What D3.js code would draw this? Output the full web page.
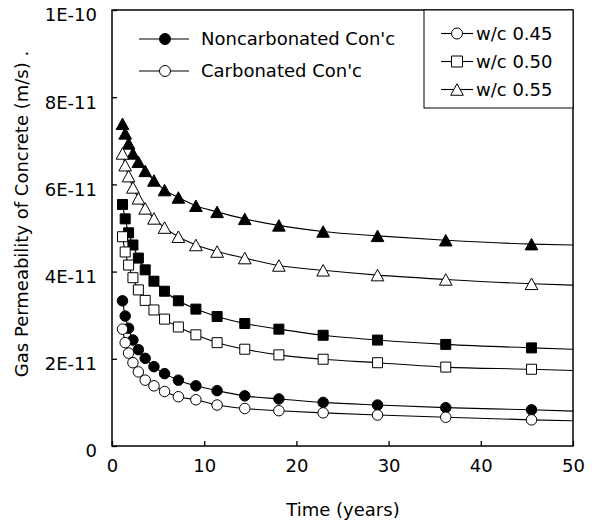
<!DOCTYPE html>
<html>
<head>
<meta charset="utf-8">
<script src="https://cdn.jsdelivr.net/npm/d3@7"></script>
<style>
  html, body { margin: 0; padding: 0; background: #fff; }
  svg { display: block; font-family: "DejaVu Sans", Verdana, sans-serif; }
</style>
</head>
<body>
<svg id="chart" width="592" height="520"></svg>
<script>
// ---- data (values in m/s) ----
const times = [1.14, 1.43, 1.8, 2.27, 2.86, 3.6, 4.55, 5.7, 7.2, 9.1, 11.4, 14.4, 18.1, 22.9, 28.8, 36.2, 45.5];
const lineEndTime = 50;

const non045 = [3.33, 2.98, 2.70, 2.43, 2.21, 2.01, 1.82, 1.66, 1.51, 1.38, 1.27, 1.15, 1.08, 1.00, 0.94, 0.88, 0.83];
const carb045 = [2.68, 2.37, 2.13, 1.91, 1.70, 1.51, 1.38, 1.25, 1.13, 1.06, 0.94, 0.86, 0.81, 0.76, 0.71, 0.66, 0.60];
const non050 = [5.54, 5.21, 4.89, 4.61, 4.31, 4.04, 3.78, 3.55, 3.33, 3.14, 2.97, 2.81, 2.68, 2.54, 2.43, 2.33, 2.25];
const carb050 = [4.80, 4.45, 4.15, 3.86, 3.58, 3.34, 3.12, 2.91, 2.73, 2.55, 2.37, 2.22, 2.09, 1.99, 1.91, 1.81, 1.76];
const non055 = [7.39, 7.17, 6.94, 6.71, 6.52, 6.31, 6.09, 5.87, 5.70, 5.51, 5.37, 5.21, 5.06, 4.92, 4.82, 4.72, 4.63];
const carb055 = [6.71, 6.44, 6.19, 5.93, 5.68, 5.45, 5.22, 5.01, 4.80, 4.61, 4.46, 4.31, 4.14, 4.03, 3.92, 3.82, 3.72];
// curve value where the fitted line meets t = 50 (same order as seriesNames)
const lineEndValues = [0.80, 0.58, 2.22, 1.73, 4.61, 3.69];
const valueUnit = 1e-11;

const seriesNames = ["non045", "carb045", "non050", "carb050", "non055", "carb055"];
const seriesValues = [non045, carb045, non050, carb050, non055, carb055];
const seriesShape = ["circle", "circle", "square", "square", "triangle", "triangle"];
const seriesFilled = [true, false, true, false, true, false];

const xTicks = [0, 10, 20, 30, 40, 50];
const yTicks = [0, 2e-11, 4e-11, 6e-11, 8e-11, 1e-10];
const yTickLabels = ["0", "2E-11", "4E-11", "6E-11", "8E-11", "1E-10"];

const legendStateLabels = ["Noncarbonated Con'c", "Carbonated Con'c"];
const legendWcLabels = ["w/c 0.45", "w/c 0.50", "w/c 0.55"];
const xTitle = "Time (years)";
const yTitle = "Gas Permeability of Concrete (m/s) .";

// ---- layout ----
const svg = d3.select("#chart");
const L = 112, R = 573, T = 10, B = 446;
const x = d3.scaleLinear().domain([0, 50]).range([L, R]);
const y = d3.scaleLinear().domain([0, 1e-10]).range([B, T]);
const FS = 18;
const markerSize = { circle: 10.5, square: 10, triangle: 11.5 };

function markerPath(shape, size) {
  if (shape === "circle") {
    const r = size / 2;
    return `M${-r},0A${r},${r} 0 1,0 ${r},0A${r},${r} 0 1,0 ${-r},0Z`;
  }
  if (shape === "square") {
    const h = size / 2;
    return `M${-h},${-h}H${h}V${h}H${-h}Z`;
  }
  // triangle, bbox centred on point
  const w = size * 1.1 / 2, h = size / 2;
  return `M0,${-h}L${w},${h}L${-w},${h}Z`;
}

// ---- axes ----
const xAxis = d3.axisBottom(x).tickValues(xTicks).tickSize(-5).tickPadding(13.5).tickFormat(d3.format("d"));
const gx = svg.append("g").attr("transform", `translate(0,${B})`).call(xAxis);
const yAxis = d3.axisLeft(y).tickValues(yTicks).tickSize(-5).tickPadding(15)
  .tickFormat((d, i) => yTickLabels[i]);
const gy = svg.append("g").attr("transform", `translate(${L},0)`).call(yAxis);
[gx, gy].forEach(g => {
  g.select(".domain").remove();
  g.selectAll(".tick line").attr("stroke", "#000").attr("stroke-width", 1.3);
  g.selectAll(".tick text").attr("font-size", FS).attr("fill", "#000")
    .attr("font-family", "DejaVu Sans, Verdana, sans-serif");
});
gy.selectAll(".tick text").attr("dy", "0.6em");

// frame
svg.append("rect").attr("x", L).attr("y", T).attr("width", R - L).attr("height", B - T)
  .attr("fill", "none").attr("stroke", "#000").attr("stroke-width", 1.5);

// ---- lines ----
const line = d3.line().x(d => x(d[0])).y(d => y(d[1])).curve(d3.curveMonotoneX);
seriesValues.forEach((vals, i) => {
  const pts = times.map((t, j) => [t, vals[j] * valueUnit]);
  pts.push([lineEndTime, lineEndValues[i] * valueUnit]);
  svg.append("path").attr("d", line(pts)).attr("fill", "none")
    .attr("stroke", "#000").attr("stroke-width", 1.1);
});

// ---- markers ----
seriesValues.forEach((vals, i) => {
  const size = markerSize[seriesShape[i]];
  svg.append("g").selectAll("path").data(vals).join("path")
    .attr("transform", (d, j) => `translate(${x(times[j])},${y(d * valueUnit)})`)
    .attr("d", markerPath(seriesShape[i], size))
    .attr("fill", seriesFilled[i] ? "#000" : "#fff")
    .attr("stroke", "#000").attr("stroke-width", 1);
});

// ---- legend: state ----
const lg1 = svg.append("g");
legendStateLabels.forEach((lab, i) => {
  const cy = 39 + i * 32;
  lg1.append("line").attr("x1", 139).attr("x2", 189).attr("y1", cy).attr("y2", cy)
    .attr("stroke", "#000").attr("stroke-width", 1.1);
  lg1.append("path").attr("transform", `translate(165,${cy})`).attr("d", markerPath("circle", 11))
    .attr("fill", i === 0 ? "#000" : "#fff").attr("stroke", "#000").attr("stroke-width", 1);
  lg1.append("text").attr("x", 201).attr("y", cy).attr("dy", "0.36em")
    .attr("font-size", FS).attr("fill", "#000").text(lab);
});

// ---- legend: w/c ----
const lg2 = svg.append("g");
lg2.append("rect").attr("x", 424).attr("y", T).attr("width", R - 424).attr("height", 98)
  .attr("fill", "#fff").attr("stroke", "#000").attr("stroke-width", 1);
const wcShapes = ["circle", "square", "triangle"];
legendWcLabels.forEach((lab, i) => {
  const cy = 33.5 + i * 28;
  lg2.append("line").attr("x1", 441).attr("x2", 473).attr("y1", cy).attr("y2", cy)
    .attr("stroke", "#000").attr("stroke-width", 1.1);
  lg2.append("path").attr("transform", `translate(457,${cy})`)
    .attr("d", markerPath(wcShapes[i], wcShapes[i] === "triangle" ? 11.5 : 11))
    .attr("fill", "#fff").attr("stroke", "#000").attr("stroke-width", 1);
  lg2.append("text").attr("x", 476).attr("y", cy).attr("dy", "0.36em")
    .attr("font-size", FS).attr("fill", "#000").text(lab);
});

// ---- titles ----
svg.append("text").attr("x", 343).attr("y", 516).attr("text-anchor", "middle")
  .attr("font-size", FS).attr("fill", "#000").text(xTitle);
svg.append("text").attr("transform", "translate(28,214) rotate(-90)").attr("text-anchor", "middle")
  .attr("font-size", FS).attr("fill", "#000").text(yTitle);
</script>
</body>
</html>
